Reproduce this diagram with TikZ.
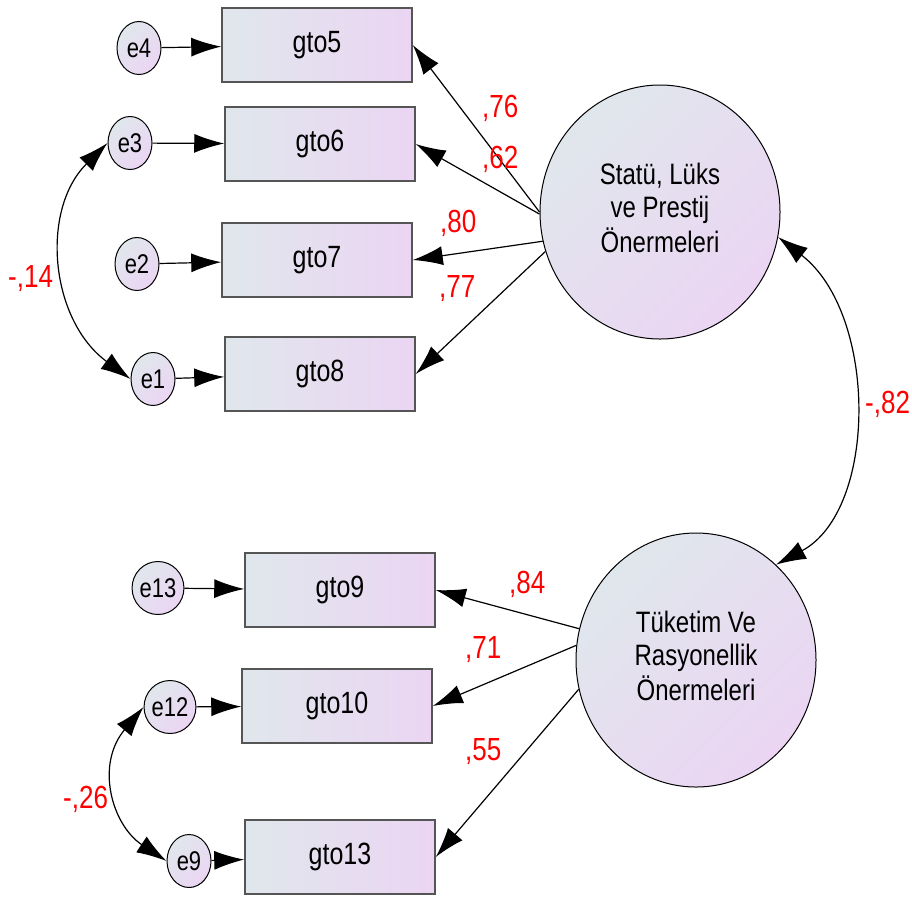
\documentclass[tikz,border=0pt]{standalone}
\usepackage{fontspec}
\usepackage{graphicx}
\setmainfont{Liberation Sans}
\usetikzlibrary{arrows.meta,shapes.geometric}
\definecolor{shadel}{RGB}{224,231,236}
\definecolor{shader}{RGB}{235,213,243}
\definecolor{boxedge}{RGB}{85,85,85}
\newcommand{\tl}[1]{\scalebox{1}[1.23]{#1}}
\begin{document}
\begin{tikzpicture}[x=1pt,y=-1pt,
	obs/.style={draw=boxedge,line width=1.5pt,left color=shadel,right color=shader,minimum width=190pt,minimum height=74pt,inner sep=0pt,font=\fontsize{25}{28}\selectfont},
	err/.style={ellipse,draw,line width=1pt,left color=shadel,right color=shader,shading angle=45,minimum width=44pt,minimum height=53pt,inner sep=0pt,font=\fontsize{22}{26}\selectfont},
	lat/.style={ellipse,draw,line width=1pt,left color=shadel,right color=shader,shading angle=45,minimum width=240pt,minimum height=254pt,inner sep=0pt,font=\fontsize{24}{27}\selectfont},
	est/.style={anchor=base west,inner sep=0pt,text=red,font=\fontsize{26}{30}\selectfont},
	path/.style={line width=1.2pt,-{Latex[length=30pt,width=19pt]}},
	cov/.style={line width=1.2pt,{Latex[length=30pt,width=19pt]}-{Latex[length=30pt,width=19pt]}}]
\useasboundingbox (0,0) rectangle (912,898);
\node[obs] (gto5) at (317,45) {\tl{gto5}};
\node[obs] (gto6) at (320,144) {\tl{gto6}};
\node[obs] (gto7) at (317,260) {\tl{gto7}};
\node[obs] (gto8) at (320,374) {\tl{gto8}};
\node[obs] (gto9) at (340,590) {\tl{gto9}};
\node[obs] (gto10) at (337,706) {\tl{gto10}};
\node[obs] (gto13) at (340,857) {\tl{gto13}};
\node[err] (e4) at (139,48) {\tl{e4}};
\node[err] (e3) at (130,143) {\tl{e3}};
\node[err] (e2) at (137,264) {\tl{e2}};
\node[err] (e1) at (153,379) {\tl{e1}};
\node[err] (e13) at (158,588) {\tl{e13}};
\node[err] (e12) at (170,707) {\tl{e12}};
\node[err] (e9) at (189,861) {\tl{e9}};
\node[lat] (slp) at (660,212) {\tl{\begin{tabular}{@{}c@{}}Statü, Lüks\\ve Prestij\\Önermeleri\end{tabular}}};
\node[lat] (tro) at (696,660) {\tl{\begin{tabular}{@{}c@{}}Tüketim Ve\\Rasyonellik\\Önermeleri\end{tabular}}};
\foreach \e/\g in {e4/gto5,e3/gto6,e2/gto7,e1/gto8,e13/gto9,e12/gto10,e9/gto13}
	\draw[path] (\e) -- (\g);
\foreach \a/\g in {180/gto5,181/gto6,194/gto7,199/gto8}
	\draw[path] (slp.\a) -- (\g.east);
\foreach \a/\g in {165/gto9,173/gto10,194/gto13}
	\draw[path] (tro.\a) -- (\g.east);
\draw[cov] (e3.west) .. controls (40,210) and (50,320) .. (e1.west);
\draw[cov] (e12.west) .. controls (95,765) and (112,825) .. (e9.west);
\draw[cov] (slp.-12) .. controls (878,314) and (878,510) .. (tro.50);
\node[est] (l76) at (482,117) {\tl{,76}};
\node[est] (l62) at (482,168) {\tl{,62}};
\node[est] (l80) at (440,232) {\tl{,80}};
\node[est] (l77) at (439,297) {\tl{,77}};
\node[est] (l14) at (8,287) {\tl{-,14}};
\node[est] (l82) at (865,413) {\tl{-,82}};
\node[est] (l84) at (509,593) {\tl{,84}};
\node[est] (l71) at (465,658) {\tl{,71}};
\node[est] (l55) at (465,760) {\tl{,55}};
\node[est] (l26) at (63,808) {\tl{-,26}};
\end{tikzpicture}
\end{document}
